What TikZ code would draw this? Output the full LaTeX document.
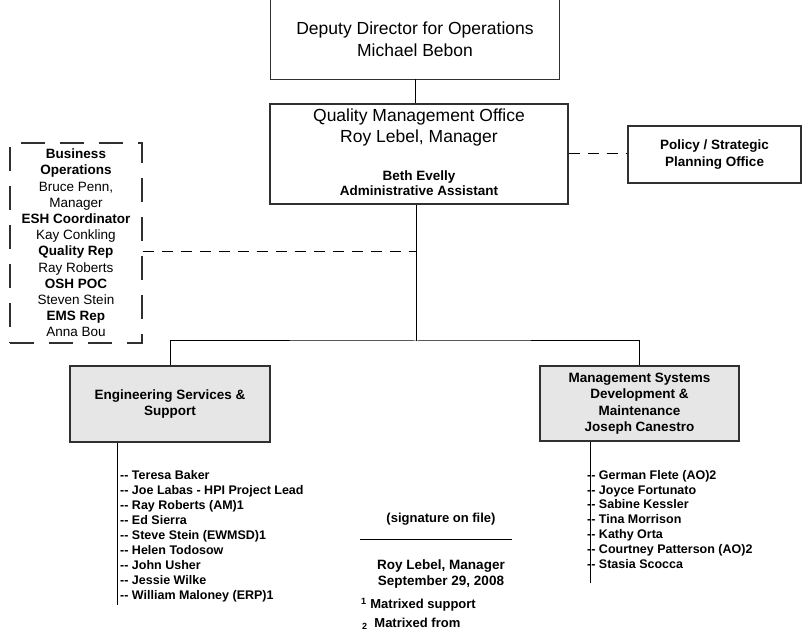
\documentclass[tikz,border=0pt]{standalone}
\usepackage{fontspec}
\setmainfont{Liberation Sans}
\usetikzlibrary{positioning}
\newcommand{\fsz}[2]{\fontsize{#1}{#2}\selectfont}
\newcommand{\dd}{-\kern0pt-}
\definecolor{boxgray}{HTML}{E6E6E6}
\definecolor{edge}{HTML}{303030}

\begin{document}
\begin{tikzpicture}[x=1pt,y=-1pt,
  box/.style={draw=edge,line width=1.3pt,align=center,inner sep=0pt},
  unit/.style={box,fill=boxgray,font=\bfseries\fsz{13.5}{16.5}},
  link/.style={draw=black,line width=1pt},
  dotlink/.style={link,dash pattern=on 11pt off 8pt},
  roster/.style={align=left,anchor=north west,inner xsep=3pt,inner ysep=3pt,font=\bfseries\fsz{12.5}{15}}]
\useasboundingbox (0,0) rectangle (804,636);

\node[align=center,minimum width=288pt,minimum height=79pt,inner sep=0pt,font=\fsz{17.5}{22}] (dep) at (415,39.5) {Deputy Director for Operations\\Michael Bebon};
\draw[edge,line width=1.3pt] (dep.north west) -- (dep.south west) -- (dep.south east) -- (dep.north east);

\node[box,minimum width=298pt,minimum height=100pt] (qmo) at (419,154) {};
\node[align=center,font=\fsz{17.5}{21}] (qmohead) at (419,127) {Quality Management Office\\Roy Lebel, Manager};
\node[align=center,font=\bfseries\fsz{13.5}{15.5}] (asst) at (419,183) {Beth Evelly\\Administrative Assistant};

\node[box,minimum width=173pt,minimum height=57pt,font=\bfseries\fsz{13.5}{17}] (pol) at (714.5,154.5) {Policy / Strategic\\Planning Office};

\node[draw=edge,line width=1.3pt,dash pattern=on 24pt off 15pt,minimum width=132pt,minimum height=200pt,align=center,inner sep=0pt,font=\fsz{13.5}{16.2}] (bizops) at (76,243)
  {\textbf{Business}\\\textbf{Operations}\\Bruce Penn,\\Manager\\\textbf{ESH Coordinator}\\Kay Conkling\\\textbf{Quality Rep}\\Ray Roberts\\\textbf{OSH POC}\\Steven Stein\\\textbf{EMS Rep}\\Anna Bou};

\coordinate (bar) at (416,341);
\coordinate (tap) at (416,252);

\node[unit,minimum width=200pt,minimum height=76pt] (eng) at (170,404) {Engineering Services \&\\Support};
\node[unit,minimum width=199pt,minimum height=75pt] (msdm) at (639.5,403.5) {Management Systems\\Development \&\\Maintenance\\Joseph Canestro};

\node[roster] (engstaff) at (117,467) {\dd{} Teresa Baker\\\dd{} Joe Labas - HPI Project Lead\\\dd{} Ray Roberts (AM)1\\\dd{} Ed Sierra\\\dd{} Steve Stein (EWMSD)1\\\dd{} Helen Todosow\\\dd{} John Usher\\\dd{} Jessie Wilke\\\dd{} William Maloney (ERP)1};
\node[roster,inner xsep=0pt,font=\bfseries\fsz{12.5}{14.8}] (msdmstaff) at (587,467) {\dd{} German Flete (AO)2\\\dd{} Joyce Fortunato\\\dd{} Sabine Kessler\\\dd{} Tina Morrison\\\dd{} Kathy Orta\\\dd{} Courtney Patterson (AO)2\\\dd{} Stasia Scocca};

\draw[link] (dep.south) -- (dep.south |- qmo.north);
\draw[link] (qmo.south -| bar) -- (bar);
\draw[dotlink] (qmo.east) -- (qmo.east -| pol.west);
\draw[dotlink] (tap -| bizops.east) -- (tap);
\draw[link] (eng.north) |- (bar) -| (msdm.north);
\draw[link] (eng.south -| engstaff.west) -- (engstaff.south west);
\draw[link] ([xshift=3pt]msdmstaff.west |- msdm.south) -- ([xshift=3pt,yshift=-12pt]msdmstaff.south west);

\node[font=\bfseries\fsz{13}{16}] (sig) at (441,519) {(signature on file)};
\coordinate (sigl) at (360,539);
\coordinate (sigr) at (512,539);
\draw[link] (sigl) -- (sigr);
\node[align=center,font=\bfseries\fsz{13.5}{16}] (signer) at (441,574) {Roy Lebel, Manager\\September 29, 2008};
\node[anchor=west,inner sep=0pt,font=\bfseries\fsz{13}{16}] (fn1) at (361,605) {\textsuperscript{1} Matrixed support};
\node[anchor=west,inner sep=0pt,font=\bfseries\fsz{13}{16}] (fn2) at (362,624) {\raisebox{-1.5pt}{\fsz{9}{10}2}\ \ Matrixed from};
\end{tikzpicture}
\end{document}
